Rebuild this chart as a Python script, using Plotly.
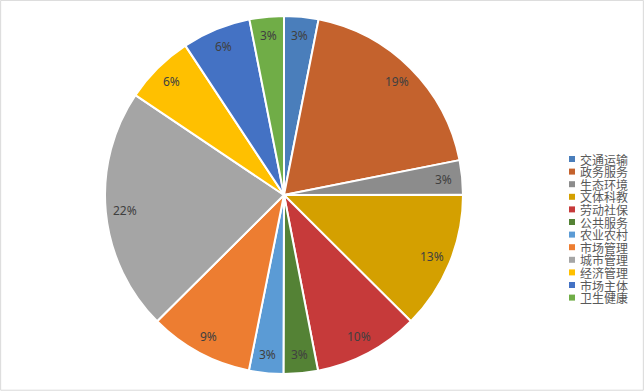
import math
import plotly.graph_objects as go

categories = ["交通运输", "政务服务", "生态环境", "文体科教", "劳动社保", "公共服务",
              "农业农村", "市场管理", "城市管理", "经济管理", "市场主体", "卫生健康"]
shares = [3.1, 18.8, 3.1, 12.5, 9.5, 3.1, 3.1, 9.4, 21.9, 6.3, 6.2, 3.1]
pct_labels = ["3%", "19%", "3%", "13%", "10%", "3%", "3%", "9%", "22%", "6%", "6%", "3%"]
colors = ["#4A7EBB", "#C4622D", "#8C8C8C", "#D4A000", "#C63A3A", "#548235",
          "#5B9BD5", "#ED7D31", "#A5A5A5", "#FFC000", "#4472C4", "#70AD47"]

W, H = 644, 391
cx, cy, R = 284, 195, 179

fig = go.Figure(go.Pie(
    labels=categories, values=shares, sort=False, direction="clockwise", rotation=0,
    marker=dict(colors=colors, line=dict(color="white", width=2)),
    textinfo="none", hoverinfo="label+percent", showlegend=False,
    domain=dict(x=[(cx - R) / W, (cx + R) / W], y=[1 - (cy + R) / H, 1 - (cy - R) / H]),
))

annotations = []
total = sum(shares)
cum = 0.0
for v, t in zip(shares, pct_labels):
    mid = (cum + v / 2) / total * 2 * math.pi
    cum += v
    r = 0.895 * R
    px = cx + r * math.sin(mid)
    py = cy - r * math.cos(mid)
    annotations.append(dict(x=px / W, y=1 - py / H, xref="paper", yref="paper", text=t,
                            showarrow=False, xanchor="center", yanchor="middle",
                            font=dict(family="Noto Sans, Open Sans, sans-serif", size=12, color="#404040")))

shapes = [dict(type="rect", xref="paper", yref="paper", x0=0.001, y0=0.002, x1=0.999, y1=0.999,
               line=dict(color="#D9D9D9", width=1), fillcolor="rgba(0,0,0,0)")]
ly0, lstep = 159, 12.6
for i, (c, col) in enumerate(zip(categories, colors)):
    yc = ly0 + i * lstep
    shapes.append(dict(type="rect", xref="paper", yref="paper",
                       x0=569 / W, x1=575 / W, y0=1 - (yc + 3) / H, y1=1 - (yc - 3) / H,
                       fillcolor=col, line=dict(width=0)))
    annotations.append(dict(x=578 / W, y=1 - yc / H, xref="paper", yref="paper", text=c,
                            showarrow=False, xanchor="left", yanchor="middle",
                            font=dict(family="Noto Sans CJK SC, sans-serif", size=12, color="#595959")))

fig.update_layout(width=W, height=H, margin=dict(l=0, r=0, t=0, b=0),
                  paper_bgcolor="white", plot_bgcolor="white",
                  annotations=annotations, shapes=shapes)
fig.write_html("out.html", config={"displayModeBar": False},
               post_script="document.body.style.margin='0px';")
